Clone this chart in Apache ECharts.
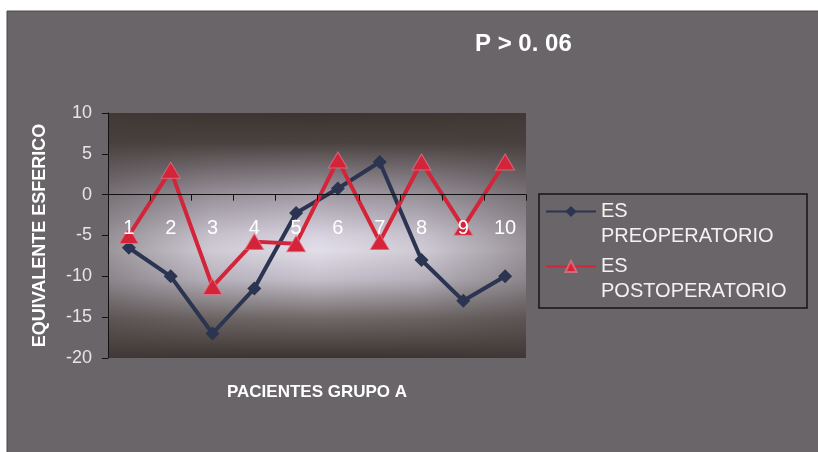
<!DOCTYPE html>
<html>
<head>
<meta charset="utf-8">
<title>Equivalente esférico – Pacientes grupo A</title>
<script src="https://cdn.jsdelivr.net/npm/echarts@6/dist/echarts.min.js"></script>
<style>
  html, body { margin: 0; padding: 0; background: #ffffff; }
  #chart { width: 818px; height: 452px; }
</style>
</head>
<body>
<div id="chart"></div>
<script>
// Patients (x categories)
const categories = ['1', '2', '3', '4', '5', '6', '7', '8', '9', '10'];
// Spherical equivalent before surgery
const preOp = [-6.5, -10, -17, -11.5, -2.25, 0.75, 4, -8, -13, -10];
// Spherical equivalent after surgery
const postOp = [-5, 3, -11.25, -5.75, -6, 4.25, -5.75, 4, -4, 4];
// Value axis range
const yMin = -20;
const yMax = 10;
const yStep = 5;

const seriesNames = ['ES PREOPERATORIO', 'ES POSTOPERATORIO'];

const FONT = "'Liberation Sans', Arial, sans-serif";
const GRID = { left: 108, top: 113, width: 418, height: 245 };
const LINE_H = 25;

const chart = echarts.init(document.getElementById('chart'), null, { renderer: 'canvas' });

const option = {
  backgroundColor: '#ffffff',
  animation: false,
  textStyle: { fontFamily: FONT },
  title: {
    text: 'P > 0. 06',
    left: 475,
    top: 32,
    padding: 0,
    textStyle: { color: '#ffffff', fontSize: 24, fontWeight: 'bold', fontFamily: FONT }
  },
  graphic: [
    {
      // outer panel
      type: 'rect',
      z: -5,
      shape: { x: 7, y: 11, width: 818, height: 452 },
      style: { fill: '#6a6568', stroke: '#4c4849', lineWidth: 1 }
    },
    {
      // side shading of the plot area
      type: 'rect',
      z: 1,
      silent: true,
      shape: { x: GRID.left, y: GRID.top, width: GRID.width, height: GRID.height },
      style: {
        fill: new echarts.graphic.LinearGradient(0, 0, 1, 0, [
          { offset: 0, color: 'rgba(70,62,60,0.45)' },
          { offset: 0.25, color: 'rgba(70,62,60,0.12)' },
          { offset: 0.5, color: 'rgba(70,62,60,0)' },
          { offset: 0.75, color: 'rgba(70,62,60,0.12)' },
          { offset: 1, color: 'rgba(70,62,60,0.45)' }
        ])
      }
    },
    {
      // legend frame
      type: 'rect',
      z: 1,
      silent: true,
      shape: { x: 539, y: 194, width: 268, height: 114 },
      style: { fill: 'none', stroke: '#161414', lineWidth: 1.5 }
    }
  ],
  grid: {
    left: GRID.left,
    top: GRID.top,
    width: GRID.width,
    height: GRID.height,
    outerBoundsMode: 'none',
    containLabel: false,
    show: true,
    borderWidth: 0,
    backgroundColor: new echarts.graphic.LinearGradient(0, 0, 0, 1, [
      { offset: 0, color: '#3b3430' },
      { offset: 0.12, color: '#4a4240' },
      { offset: 0.32, color: '#9d96a0' },
      { offset: 0.5, color: '#d8d3e0' },
      { offset: 0.56, color: '#e2dee9' },
      { offset: 0.68, color: '#c4bfcb' },
      { offset: 0.84, color: '#6f6867' },
      { offset: 1, color: '#3a3330' }
    ])
  },
  legend: {
    orient: 'vertical',
    left: 545,
    top: 211.5 - LINE_H * 1.5,
    padding: 0,
    itemWidth: 50,
    itemHeight: 14,
    itemGap: -20,
    data: seriesNames,
    // blank first line keeps the marker level with the first word
    formatter: function (name) { return ' \n' + name.replace(' ', '\n'); },
    textStyle: {
      color: '#f2f2f2',
      fontSize: 20,
      lineHeight: LINE_H,
      fontFamily: FONT
    }
  },
  xAxis: {
    type: 'category',
    data: categories,
    boundaryGap: true,
    position: 'bottom',
    offset: 0,
    z: 4,
    axisLine: { onZero: false, lineStyle: { color: '#111111', width: 1 } },
    axisTick: { show: true, length: 6, lineStyle: { color: '#111111' } },
    axisLabel: { color: '#ffffff', fontSize: 20, margin: 24, fontFamily: FONT },
    splitLine: { show: false },
    name: 'PACIENTES GRUPO A',
    nameLocation: 'middle',
    nameGap: 189,
    nameTextStyle: { color: '#ffffff', fontSize: 17, fontWeight: 'bold', fontFamily: FONT }
  },
  yAxis: {
    type: 'value',
    min: yMin,
    max: yMax,
    interval: yStep,
    z: 1.5,
    axisLine: { show: true, lineStyle: { color: '#111111', width: 1 } },
    axisTick: { show: true, length: 6, lineStyle: { color: '#111111' } },
    axisLabel: { color: '#e6e6e6', fontSize: 18, margin: 16, fontFamily: FONT },
    splitLine: { show: false },
    name: 'EQUIVALENTE ESFERICO',
    nameLocation: 'middle',
    nameRotate: 90,
    nameGap: 59,
    nameTextStyle: { color: '#ffffff', fontSize: 18, fontWeight: 'bold', fontFamily: FONT }
  },
  series: [
    {
      name: seriesNames[0],
      type: 'line',
      data: preOp,
      symbol: 'diamond',
      symbolSize: 14,
      z: 2,
      itemStyle: { color: '#2b3450' },
      lineStyle: { color: '#2b3450', width: 4 }
    },
    {
      name: seriesNames[1],
      type: 'line',
      data: postOp,
      symbol: 'triangle',
      symbolSize: [19, 16],
      z: 3,
      itemStyle: { color: '#d4243a', borderColor: 'rgba(235,120,140,0.7)', borderWidth: 1 },
      lineStyle: { color: '#d4243a', width: 4 }
    }
  ]
};

chart.setOption(option);

// Lift the category axis (line, ticks, labels, name) up to the y = 0 level
const zeroY = chart.convertToPixel({ yAxisIndex: 0 }, 0);
const gridBottom = GRID.top + GRID.height;
chart.setOption({ xAxis: { offset: zeroY - gridBottom } });
</script>
</body>
</html>
